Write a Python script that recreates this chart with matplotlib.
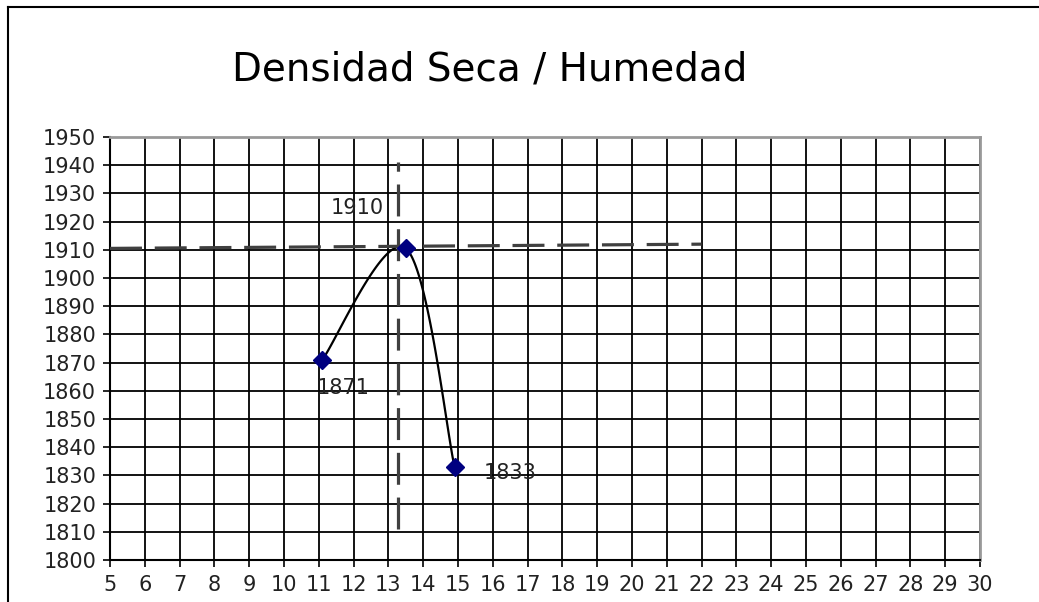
import numpy as np
import matplotlib
matplotlib.use("Agg")
import matplotlib.pyplot as plt
from matplotlib.lines import Line2D

plt.rcParams['font.family'] = ['DejaVu Sans']

# data
humedad = [11.1, 13.5, 14.9]
densidad = [1871, 1910.5, 1833]
labels = ["1871", "1910", "1833"]
label_x = [11.7, 12.1, 16.5]
label_y = [1861, 1925, 1831]

# reference lines (dashed)
h_line_x = [5, 22]
h_line_y = [1910.5, 1912]
v_line_x = [13.28, 13.28]
v_line_y = [1811, 1941]

x_ticks = list(range(5, 31))
y_ticks = list(range(1800, 1951, 10))


def smooth_curve(xs, ys, n=60, tension=0.5):
    # cardinal spline through the points, like Excel's smoothed line
    px = np.array(xs, float)
    py = np.array(ys, float)
    px = np.concatenate([[px[0]], px, [px[-1]]])
    py = np.concatenate([[py[0]], py, [py[-1]]])
    out_x, out_y = [], []
    for i in range(1, len(px) - 2):
        p0, p1, p2, p3 = (np.array([px[j], py[j]]) for j in (i - 1, i, i + 1, i + 2))
        c1 = p1 + (p2 - p0) * tension / 3
        c2 = p2 - (p3 - p1) * tension / 3
        t = np.linspace(0, 1, n)[:, None]
        b = (1 - t) ** 3 * p1 + 3 * (1 - t) ** 2 * t * c1 + 3 * (1 - t) * t ** 2 * c2 + t ** 3 * p2
        out_x.extend(b[:, 0])
        out_y.extend(b[:, 1])
    return out_x, out_y


fig = plt.figure(figsize=(10.39, 6.02), dpi=100)
ax = fig.add_axes([0.1059, 0.0698, 0.8373, 0.7026])

ax.set_xlim(5, 30)
ax.set_ylim(1800, 1950)
ax.set_xticks(x_ticks)
ax.set_yticks(y_ticks)
ax.grid(True, color='black', linewidth=1.3)
ax.set_axisbelow(True)
ax.tick_params(direction='out', length=5, width=1.2, color='black', labelsize=15, pad=5)
ax.tick_params(axis='x', pad=6)
for lbl in ax.get_xticklabels() + ax.get_yticklabels():
    lbl.set_color('#222222')

for side in ['top', 'right']:
    ax.spines[side].set_color('#999999')
    ax.spines[side].set_linewidth(2)
for side in ['left', 'bottom']:
    ax.spines[side].set_color('black')
    ax.spines[side].set_linewidth(1.5)

sx, sy = smooth_curve(humedad, densidad)
ax.plot(sx, sy, color='black', linewidth=1.6, zorder=3)
ax.plot(humedad, densidad, linestyle='none', marker='D', markersize=9.5,
        color='#000080', zorder=4)

ax.plot(h_line_x, h_line_y, color='#404040', linewidth=2.3, dashes=(10, 4), zorder=3, clip_on=False)
ax.plot(v_line_x, v_line_y, color='#404040', linewidth=2.3, dashes=(10, 4), zorder=3)

for lx, ly, t in zip(label_x, label_y, labels):
    ax.text(lx, ly, t, fontsize=15, color='#222222', ha='center', va='center')

fig.text(0.471, 0.884, "Densidad Seca / Humedad", fontsize=28, ha='center', va='center')

# outer chart frame
fig.add_artist(Line2D([0.0077, 0.0077], [0.0, 0.988], color='black', linewidth=1.5, transform=fig.transFigure))
fig.add_artist(Line2D([0.0077, 1.0], [0.988, 0.988], color='black', linewidth=1.5, transform=fig.transFigure))

fig.savefig("out.png", dpi=100)
